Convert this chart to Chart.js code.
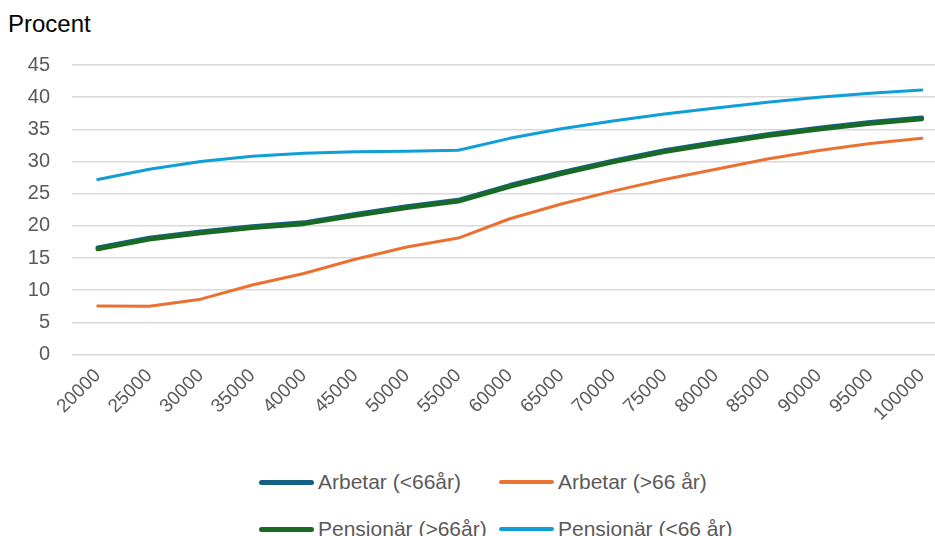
<!DOCTYPE html>
<html>
<head>
<meta charset="utf-8">
<script src="https://cdn.jsdelivr.net/npm/chart.js@4.4.1/dist/chart.umd.min.js"></script>
<style>
  html,body{margin:0;padding:0;background:#fff;overflow:hidden;width:935px;height:536px}
  #wrap{position:relative;width:935px;height:536px}
  #title{position:absolute;left:8px;top:10px;font:24px "Liberation Sans",Arial,sans-serif;color:#000}
  #c{position:absolute;left:0;top:0}
  #legend{position:absolute;left:259px;top:466px;display:grid;grid-template-columns:240px 240px;row-gap:15px}
  .li{display:flex;align-items:center;height:32px;font:21px "Liberation Sans",Arial,sans-serif;color:#595959;white-space:nowrap}
  .sw{width:55px;border-radius:3px;margin-right:4px}
</style>
</head>
<body>
<div id="wrap">
  <div id="title">Procent</div>
  <canvas id="c" width="948" height="450"></canvas>
  <div id="legend"></div>
</div>
<script>
// inkomstnivåer (kr/mån)
const labels = ['20000','25000','30000','35000','40000','45000','50000','55000','60000','65000','70000','75000','80000','85000','90000','95000','100000'];

// procent per grupp
const arbetarUnder66   = [16.6,18.1,19.1,19.9,20.5,21.8,23.0,24.0,26.3,28.3,30.1,31.7,33.0,34.2,35.2,36.1,36.8];
const arbetarOver66    = [7.55,7.5,8.6,10.8,12.6,14.8,16.7,18.1,21.1,23.4,25.4,27.2,28.8,30.4,31.7,32.8,33.6];
const pensionarOver66  = [16.4,17.9,18.9,19.7,20.3,21.6,22.8,23.8,26.1,28.1,29.9,31.5,32.8,34.0,35.0,35.9,36.6];
const pensionarUnder66 = [27.2,28.8,30.0,30.8,31.3,31.5,31.6,31.75,33.6,35.1,36.3,37.4,38.3,39.2,40.0,40.6,41.1];

const yTicksMax = 45, yStep = 5;

const tc = '#595959', gc = '#d9d9d9';

const datasets = [
  {label:'Arbetar (<66år)', data:arbetarUnder66, borderColor:'#156082', borderWidth:4.5, order:1},
  {label:'Arbetar (>66 år)', data:arbetarOver66, borderColor:'#E97132', borderWidth:3, order:2},
  {label:'Pensionär (>66år)', data:pensionarOver66, borderColor:'#196B24', borderWidth:4.5, order:0},
  {label:'Pensionär (<66 år)', data:pensionarUnder66, borderColor:'#0F9ED5', borderWidth:3, order:3},
];
datasets.forEach(d => { d.pointRadius = 0; d.tension = 0; d.fill = false; d.borderCapStyle = 'round'; d.borderJoinStyle = 'round' });

const chart = new Chart(document.getElementById('c'), {
  type:'line',
  data:{labels, datasets},
  options:{
    responsive:false, devicePixelRatio:1, animation:false,
    layout:{padding:{top:65,left:0,right:0,bottom:0}},
    plugins:{legend:{display:false}, tooltip:{enabled:false}},
    scales:{
      x:{
        offset:true,
        grid:{display:false, drawTicks:false}, border:{display:false},
        ticks:{color:tc, font:{family:'Liberation Sans', size:19}, minRotation:45, maxRotation:45, padding:10, autoSkip:false},
        afterFit:s => { s.height = 95.5 }
      },
      y:{
        min:0, max:yTicksMax,
        grid:{color:gc, lineWidth:1.5, drawTicks:false}, border:{display:false},
        ticks:{stepSize:yStep, color:tc, font:{family:'Liberation Sans', size:20}, padding:22},
        afterFit:s => { s.width = 72 }
      }
    }
  }
});

// legend i två rader som i Excel
document.getElementById('legend').innerHTML = chart.data.datasets.map(d =>
  `<div class="li"><div class="sw" style="height:${d.borderWidth>4?5:4}px;background:${d.borderColor}"></div>${d.label}</div>`).join('');
</script>
</body>
</html>
